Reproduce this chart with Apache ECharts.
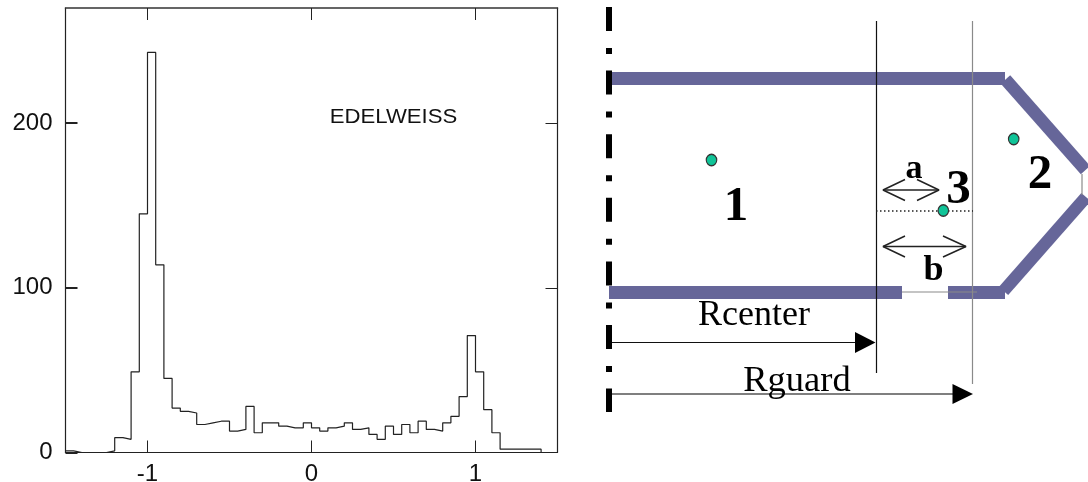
<!DOCTYPE html>
<html><head><meta charset="utf-8">
<style>html,body{margin:0;padding:0;background:#fff}#c{width:1088px;height:482px}</style>
<script src="https://cdn.jsdelivr.net/npm/echarts@6/dist/echarts.min.js"></script>
</head><body><div id="c"></div>
<script>
// ---- histogram data ----
const binStart = -1.5, binWidth = 0.05;
const counts = [
  1,0,0,0,0,1,9,8,49,145,
  243,114,45,27,25,24,17,18,19,19,
  13,14,28,12,18,18,16,15,15,18,
  15,13,15,16,18,14,15,11,8,16,
  11,17,12,19,14,13,18,22,34,71,
  49,26,12,2,2,2,2,2,0,0
];
const xTicks = [-1, 0, 1];
const yTicks = [0, 100, 200];
const histPoints = counts.map((v, i) => [+(binStart + i * binWidth).toFixed(2), v]);
histPoints.push([1.5, 0]);

// ---- schematic (coordinates on the diagram's own axes) ----
const electrodeBars = [
  [[609,78.5],[1005,78.5]],
  [[609,292.5],[902,292.5]],
  [[948,292.5],[1005,292.5]]
];
const slantedBars = [
  [[1005.5,79.5],[1085.5,170]],
  [[1003.5,291],[1086,197]]
];
const thinBlack = [
  [[876.5,21],[876.5,373]],
  [[612,342.5],[858,342.5]]
];
const openArrows = [
  [[883,190],[939,190]], [[905,179.5],[883,190],[905,200.5]], [[917,179.5],[939,190],[917,200.5]],
  [[883,246.5],[966,246.5]], [[905,236],[883,246.5],[905,257]], [[943,236],[966,246.5],[943,257]]
];
const thinGrey = [
  [[972.5,21],[972.5,384]],
  [[902,292],[977,292]],
  [[1082,174],[1082,195]]
];
const guardLine = [[612,394],[955,394]];
const axisOfSymmetry = [[609,7],[609,412]];
const dottedLine = [[876,211],[973,211]];
const dots = [[711.5,160],[1013.7,139],[943.3,210.5]];
const arrowHeads = [
  [[855,332],[875.5,342.5],[855,353]],
  [[952.5,384],[973,394],[952.5,404]]
];
const diagramLabels = [
  ['1',736,207,49,true],['2',1040,175,49,true],['3',958.5,190,49,true],
  ['a',914,169,34,true],['b',933.5,271,36,true],
  ['Rcenter',754,316,36,false],['Rguard',797,381,36.5,false]
];
const annotation = ['EDELWEISS'];

function line(data, color, width, type) {
  return {type:'line', xAxisIndex:2, yAxisIndex:2, data, symbol:'none', silent:true, clip:false,
    lineStyle:{color, width, type: type || 'solid', cap:'butt'}, z:3};
}
const series = [
  {type:'line', step:'end', data:histPoints, xAxisIndex:0, yAxisIndex:0, symbol:'none', silent:true,
   lineStyle:{color:'#222', width:1.2}, z:5},
  {type:'custom', xAxisIndex:0, yAxisIndex:0, data:[[0.5,203.6]], silent:true, z:6,
   renderItem:(p,api)=>{const c=api.coord([api.value(0),api.value(1)]);
     return {type:'text', x:c[0], y:c[1], scaleX:1.08,
       style:{text:annotation[0], x:0, y:0, align:'center', verticalAlign:'middle',
         font:'20.5px "Liberation Sans"', fill:'#111'}};}},
];
electrodeBars.forEach(s=>series.push(line(s,'#666699',13)));
slantedBars.forEach(s=>series.push(line(s,'#666699',12.5)));
thinGrey.forEach(s=>series.push(Object.assign(line(s,'#8a8a8a',1.2),{z:4})));
thinBlack.forEach(s=>series.push(Object.assign(line(s,'#111',1.2),{z:4})));
openArrows.forEach(s=>series.push(Object.assign(line(s,'#222',1.5),{z:4})));
series.push(Object.assign(line(guardLine,'#555',1.6),{z:4}));
series.push(Object.assign(line(axisOfSymmetry,'#000',6,[24,17,6,16.6]),{z:6}));
series.push(Object.assign(line(dottedLine,'#222',1.4,[1.5,2.5]),{z:4}));
series.push({type:'scatter', xAxisIndex:2, yAxisIndex:2, data:dots, symbol:'circle', symbolSize:[10.5,11.5], silent:true,
  itemStyle:{color:'#10c498', borderColor:'#333', borderWidth:1.2, opacity:1}, z:7});
series.push({type:'custom', xAxisIndex:2, yAxisIndex:2, data:arrowHeads.map((_,i)=>[i]), silent:true, z:7, clip:false,
  renderItem:(p,api)=>({type:'polygon', shape:{points:arrowHeads[api.value(0)].map(q=>api.coord(q))}, style:{fill:'#000'}})});
series.push({type:'custom', xAxisIndex:2, yAxisIndex:2, data:diagramLabels.map((_,i)=>[i]), silent:true, z:8, clip:false,
  renderItem:(p,api)=>{const l=diagramLabels[api.value(0)], c=api.coord([l[1],l[2]]);
    return {type:'text', style:{text:l[0], x:c[0], y:c[1], align:'center', verticalAlign:'middle',
      font:(l[4]?'bold ':'')+l[3]+'px "Liberation Serif"', fill:'#000'}};}});

const chart = echarts.init(document.getElementById('c'), null, {renderer:'canvas'});
const frame = {show:true, onZero:false, lineStyle:{color:'#222', width:1.2}};
const innerTicks = {show:true, inside:true, length:12, customValues:yTicks, lineStyle:{color:'#222',width:1}};
chart.setOption({
  animation:false, backgroundColor:'#fff',
  grid:[
    {left:65.5, top:8, width:492, height:444.5, outerBoundsMode:'none'},
    {left:65.5, top:8, width:492, height:444.5, outerBoundsMode:'none'},
    {left:0, top:0, width:1088, height:482, outerBoundsMode:'none'}
  ],
  xAxis:[
    {type:'value', gridIndex:0, min:-1.5, max:1.5, position:'bottom', axisLine:frame, splitLine:{show:false},
     axisTick:{show:true, inside:true, length:12, customValues:xTicks, lineStyle:{color:'#222',width:1}},
     axisLabel:{show:true, customValues:xTicks, margin:10, fontFamily:'Liberation Sans', fontSize:24, color:'#111',
       hideOverlap:false, formatter:v=>String(v)}},
    {type:'value', gridIndex:1, min:-1.5, max:1.5, position:'top', axisLine:{show:true,onZero:false,lineStyle:{color:'#333',width:1.6}}, splitLine:{show:false},
     axisTick:{show:true, inside:true, length:12, customValues:xTicks, lineStyle:{color:'#222',width:1}},
     axisLabel:{show:false}},
    {type:'value', gridIndex:2, min:0, max:1088, show:false}
  ],
  yAxis:[
    {type:'value', gridIndex:0, min:0, max:270, position:'left', axisLine:frame, splitLine:{show:false},
     axisTick:{show:true, inside:true, length:12, customValues:yTicks, lineStyle:{color:'#222',width:2}},
     axisLabel:{show:true, customValues:yTicks, margin:13, fontFamily:'Liberation Sans', fontSize:24, color:'#111', hideOverlap:false, verticalAlignMinLabel:'middle'}},
    {type:'value', gridIndex:1, min:0, max:270, position:'right', axisLine:frame, splitLine:{show:false},
     axisTick:innerTicks, axisLabel:{show:false}},
    {type:'value', gridIndex:2, min:0, max:482, inverse:true, show:false}
  ],
  series
});
</script></body></html>
